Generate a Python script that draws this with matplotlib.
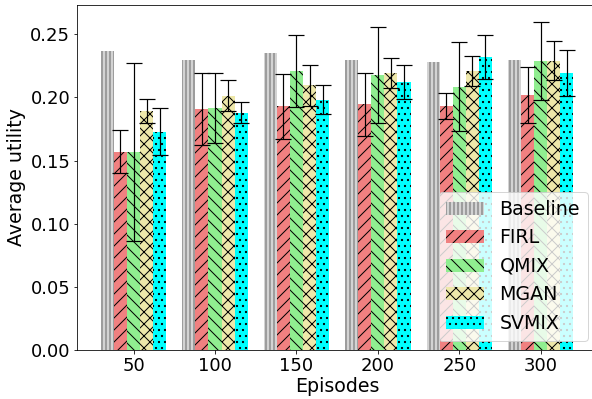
import matplotlib
matplotlib.use("Agg")
import matplotlib.pyplot as plt
import numpy as np

episodes = ["50", "100", "150", "200", "250", "300"]
methods = ["Baseline", "FIRL", "QMIX", "MGAN", "SVMIX"]

baseline = [0.237, 0.230, 0.2355, 0.230, 0.228, 0.230]
firl = [0.157, 0.191, 0.193, 0.1945, 0.193, 0.202]
firl_err = [0.017, 0.0285, 0.0257, 0.025, 0.0103, 0.022]
qmix = [0.157, 0.1915, 0.221, 0.2175, 0.2085, 0.229]
qmix_err = [0.0705, 0.0275, 0.0287, 0.038, 0.035, 0.031]
mgan = [0.189, 0.2015, 0.2095, 0.2195, 0.2212, 0.229]
mgan_err = [0.0095, 0.012, 0.016, 0.012, 0.012, 0.0155]
svmix = [0.173, 0.188, 0.198, 0.212, 0.232, 0.2195]
svmix_err = [0.0185, 0.0083, 0.0115, 0.0135, 0.0173, 0.018]

colors = ["lightgray", "lightcoral", "lightgreen", "palegoldenrod", "cyan"]
hatches = ["|||", "//", "\\\\", "xx", ".."]
hatch_colors = ["dimgray", "black", "black", "black", "black"]

series = [baseline, firl, qmix, mgan, svmix]
errors = [None, firl_err, qmix_err, mgan_err, svmix_err]

plt.rcParams["hatch.linewidth"] = 1.0
DPI = 72
fig = plt.figure(figsize=(592 / DPI, 399 / DPI), dpi=DPI)
ax = fig.add_axes([0.1306, 0.1228, 0.878, 0.8647])

x = np.arange(len(episodes))
w = 0.16
for k, (name, vals, err) in enumerate(zip(methods, series, errors)):
    pos = x + (k - 2) * w
    ax.bar(pos, vals, w, color=colors[k], hatch=hatches[k],
           edgecolor=hatch_colors[k], linewidth=0, label=name)
    if err is not None:
        ax.errorbar(pos, vals, yerr=err, fmt="none", ecolor="black",
                    elinewidth=1.2, capsize=8, capthick=1.2)

ax.set_xticks(x)
ax.set_xticklabels(episodes)
ax.set_yticks([0.0, 0.05, 0.10, 0.15, 0.20, 0.25])
ax.set_ylim(0, 0.2732)
ax.tick_params(labelsize=18)
ax.set_xlabel("Episodes", fontsize=19, labelpad=2)
ax.set_ylabel("Average utility", fontsize=19)
ax.legend(loc="lower right", fontsize=19)

fig.savefig("out.png", dpi=DPI)
